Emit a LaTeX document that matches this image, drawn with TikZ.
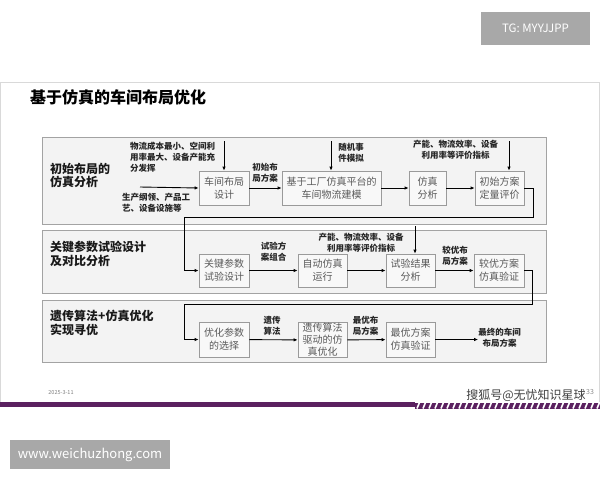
\documentclass[tikz,border=0pt]{standalone}
\usepackage{fontspec}
\setmainfont{Noto Sans CJK SC}
\usepackage{tikz}
\usetikzlibrary{
  arrows.meta,
  positioning,
  calc
}
\definecolor{fundopainel}{HTML}{F3F3F3}
\definecolor{bordapainel}{HTML}{A3A3A3}
\definecolor{fundocaixa}{HTML}{F8F8F8}
\definecolor{bordacaixa}{HTML}{9A9A9A}
\definecolor{textocaixa}{HTML}{5A5A5A}
\definecolor{cinzamarca}{HTML}{A8A8A8}
\definecolor{roxo}{HTML}{5B2160}

\begin{document}
\begin{tikzpicture}[x=1pt,y=-1pt,
  painel/.style={draw=bordapainel,fill=fundopainel,line width=0.8pt},
  caixa/.style={draw=bordacaixa,fill=fundocaixa,line width=0.8pt,minimum height=34pt,
    inner sep=0pt,text=textocaixa,align=center,font=\fontsize{10}{13}\selectfont},
  rotulo/.style={align=center,inner sep=0pt,text=black!85,font=\bfseries\fontsize{8.5}{11}\selectfont},
  titulopainel/.style={anchor=west,align=left,inner sep=0pt,text=black!90,font=\bfseries\fontsize{12}{13.5}\selectfont},
  marca/.style={fill=cinzamarca,text=white,inner sep=0pt},
  seta/.style={-{Latex[length=4pt,width=3.5pt]},line width=0.9pt},
  linha/.style={line width=0.9pt}]
        % Fundo e moldura do slide
        \useasboundingbox (0,0) rectangle (600,480);
        \fill[white] (0,0) rectangle (600,480);
        \draw[black!15,line width=0.8pt] (0.5,402) -- (0.5,82) -- (599.5,82) -- (599.5,402);

        % Marcas d'agua em cinza
        \node[marca,minimum width=109pt,minimum height=33pt,font=\fontsize{11.5}{12}\selectfont] (tg) at (535.5,28.5) {TG: MYYJJPP};
        \node[marca,minimum width=160pt,minimum height=29pt,font=\fontsize{13}{14}\selectfont] (site) at (90,454.5) {www.weichuzhong.com};

        % Titulo
        \node[anchor=west,inner sep=0pt,font=\bfseries\fontsize{16}{18}\selectfont] (titulo) at (30,97) {基于仿真的车间布局优化};

        % Tres paineis
        \draw[painel] (42,137) rectangle (546,224);
        \draw[painel] (42,230) rectangle (546,293);
        \draw[painel] (42,300) rectangle (546,362);
        \node[titulopainel] (p1) at (50,175.5) {初始布局的\\仿真分析};
        \node[titulopainel] (p2) at (50,254) {关键参数试验设计\\及对比分析};
        \node[titulopainel] (p3) at (50,323) {遗传算法+仿真优化\\实现寻优};

        % Caixas do painel 1
        \node[caixa,minimum width=50pt] (n1) at (224,188) {车间布局\\设计};
        \node[caixa,minimum width=99pt] (n2) at (331.5,188) {基于工厂仿真平台的\\车间物流建模};
        \node[caixa,minimum width=37pt] (n3) at (427.5,188) {仿真\\分析};
        \node[caixa,minimum width=49pt] (n4) at (499.5,188) {初始方案\\定量评价};

        % Caixas do painel 2
        \node[caixa,minimum width=50pt,minimum height=33pt] (n5) at (224,270.5) {关键参数\\试验设计};
        \node[caixa,minimum width=49pt,minimum height=33pt] (n6) at (322.5,270.5) {自动仿真\\运行};
        \node[caixa,minimum width=49pt,minimum height=33pt] (n7) at (410.5,270.5) {试验结果\\分析};
        \node[caixa,minimum width=50pt,minimum height=33pt] (n8) at (499,270.5) {较优方案\\仿真验证};

        % Caixas do painel 3
        \node[caixa,minimum width=50pt,minimum height=35pt] (n9) at (224,339.5) {优化参数\\的选择};
        \node[caixa,minimum width=49pt,minimum height=35pt,font=\fontsize{10}{12}\selectfont] (n10) at (322.5,340) {遗传算法\\驱动的仿\\真优化};
        \node[caixa,minimum width=49pt,minimum height=35pt] (n11) at (410.5,339.5) {最优方案\\仿真验证};

        % Entradas e rotulos
        \node[rotulo,align=left,anchor=west] (e1) at (130,157) {物流成本最小、空间利\\用率最大、设备产能充\\分发挥};
        \node[rotulo,align=left,anchor=west] (e2) at (122,203) {生产纲领、产品工\\艺、设备设施等};
        \node[rotulo] (r1) at (265,172.5) {初始布\\局方案};
        \node[rotulo] (e3) at (351,152.5) {随机事\\件模拟};
        \node[rotulo] (e4) at (455.5,150) {产能、物流效率、设备\\利用率等评价指标};
        \node[rotulo] (r2) at (273.5,251.5) {试验方\\案组合};
        \node[rotulo] (e5) at (361,243) {产能、物流效率、设备\\利用率等评价指标};
        \node[rotulo] (r3) at (455,255.5) {较优布\\局方案};
        \node[rotulo] (r4) at (272,325.5) {遗传\\算法};
        \node[rotulo] (r5) at (365.5,325.5) {最优布\\局方案};
        \node[rotulo] (saida) at (499.5,337.5) {最终的车间\\布局方案};

        % Pontos livres das setas
        \coordinate (c1) at (224,141);
        \coordinate (c2) at (140,187);
        \coordinate (c3) at (331,141);
        \coordinate (c4) at (509,141);
        \coordinate (c5) at (415,226);
        \coordinate (t1) at (533,217);
        \coordinate (t2) at (184,217);
        \coordinate (t3) at (532,304);
        \coordinate (t4) at (184,304);

        % Setas do painel 1
        \draw[seta] (c1) -- (n1.north);
        \draw[seta] (c2) -- (n1.west);
        \draw[seta] (c3) -- (n2.north -| c3);
        \draw[seta] (c4) -- (n4.north -| c4);
        \draw[seta] (n1) -- (n2);
        \draw[seta] (n2) -- (n3);
        \draw[seta] (n3) -- (n4);
        \draw[seta] (n4.east) -| (t1) -- (t2) |- (n5.west);

        % Setas do painel 2
        \draw[seta] (n5) -- (n6);
        \draw[seta] (n6) -- (n7);
        \draw[seta] (c5) -- (n7.north -| c5);
        \draw[seta] (n7) -- (n8);
        \draw[seta] (n8.east) -| (t3) -- (t4) |- (n9.west);

        % Setas do painel 3
        \draw[seta] (n9) -- (n10);
        \draw[seta] (n10) -- (n11);
        \draw[seta] (n11.east) -- (saida.west |- n11.east);

        % Rodape
        \node[inner sep=0pt,text=black!50,font=\fontsize{5.5}{6}\selectfont] (data) at (61,393) {2025-3-11};
        \node[inner sep=0pt,text=black!75,font=\fontsize{12}{13}\selectfont] (sohu) at (526,395) {搜狐号@无忧知识星球};
        \node[inner sep=0pt,text=black!45,font=\fontsize{7}{8}\selectfont,anchor=west] (pagina) at (586,392) {33};
        \fill[roxo] (0,402) rectangle (415,407);
        \fill[roxo] (415,402.5) rectangle (600,408.5);
        \foreach \x in {417,423,...,600}
          \draw[white,line width=1.6pt] (\x,408.5) -- (\x+2.5,402.5);
\end{tikzpicture}
\end{document}
